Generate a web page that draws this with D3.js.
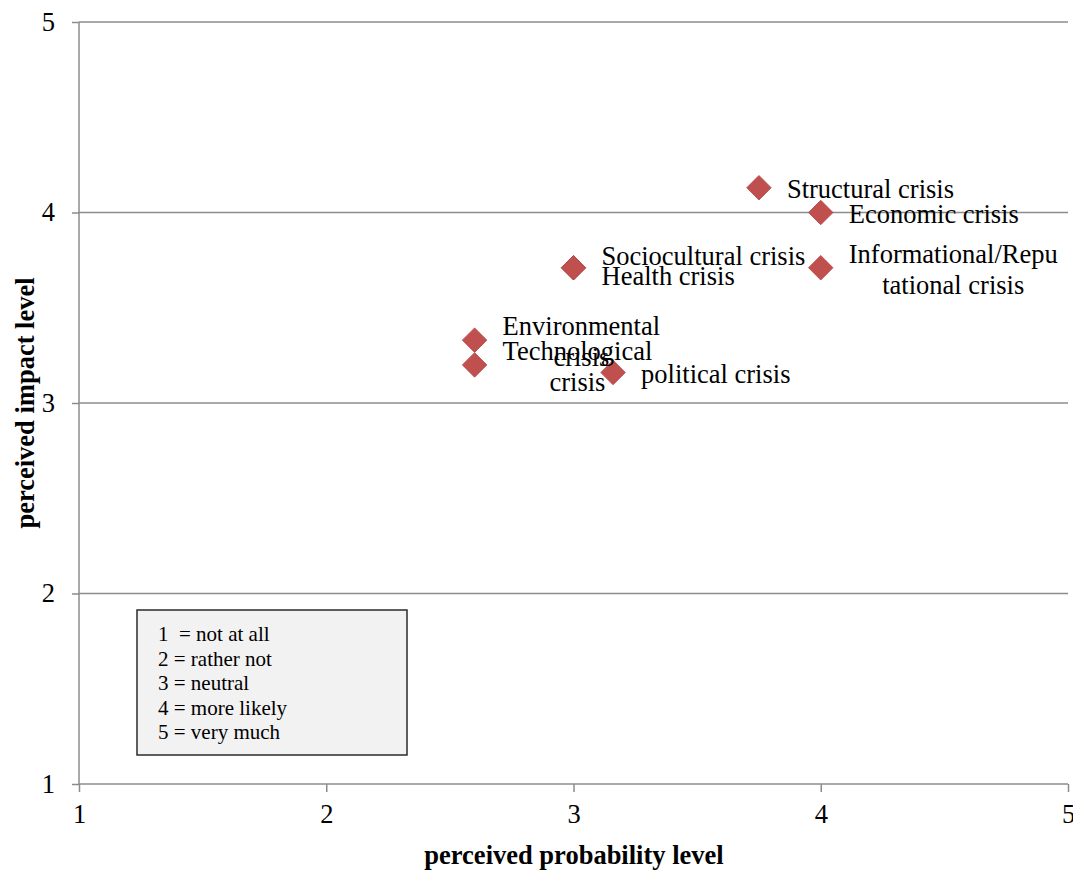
<!DOCTYPE html>
<html>
<head>
<meta charset="utf-8">
<script src="https://cdn.jsdelivr.net/npm/d3@7"></script>
<style>
  body { margin: 0; background: #fff; }
  svg { display: block; font-family: "Liberation Serif", "Times New Roman", serif; }
  .note text { white-space: pre; }
</style>
</head>
<body>
<svg id="chart" width="1073" height="870"></svg>
<script>
// Crisis types: perceived probability (x) vs perceived impact (y)
const crisisNames = [
  "Structural crisis",
  "Economic crisis",
  "Informational/Reputational crisis",
  "Sociocultural crisis",
  "Health crisis",
  "Environmental crisis",
  "Technological crisis",
  "political crisis"
];
const probability = [3.75, 4.00, 4.00, 3.00, 3.00, 2.60, 2.60, 3.16];
const impact      = [4.13, 4.00, 3.71, 3.71, 3.71, 3.33, 3.20, 3.16];

// Label text as wrapped into lines
const labelLines = [
  ["Structural crisis"],
  ["Economic crisis"],
  ["Informational/Repu", "tational crisis"],
  ["Sociocultural crisis"],
  ["Health crisis"],
  ["Environmental", "crisis"],
  ["Technological", "crisis"],
  ["political crisis"]
];

const xTicks = [1, 2, 3, 4, 5];
const yTicks = [1, 2, 3, 4, 5];
const scaleNote = [
  "1  = not at all",
  "2 = rather not",
  "3 = neutral",
  "4 = more likely",
  "5 = very much"
];

// Layout
const plot = { left: 79, right: 1068, top: 22, bottom: 784 };
const gridColor = "#8c8c8c";
const markerColor = "#c0504d";
const fontSize = 26.5;
// vertical shifts (px) for labels that share a point
const labelShift = { "Sociocultural crisis": -13, "Health crisis": 7 };

const svg = d3.select("#chart");

const x = d3.scaleLinear().domain([1, 5]).range([plot.left, plot.right]);
const y = d3.scaleLinear().domain([1, 5]).range([plot.bottom, plot.top]);

// horizontal gridlines
svg.append("g")
  .selectAll("line")
  .data(yTicks.filter(t => t > 1))
  .join("line")
  .attr("x1", plot.left).attr("x2", plot.right)
  .attr("y1", d => y(d)).attr("y2", d => y(d))
  .attr("stroke", gridColor).attr("stroke-width", 1.5);

// y axis
const yAxis = svg.append("g")
  .attr("transform", `translate(${plot.left},0)`)
  .call(d3.axisLeft(y).tickValues(yTicks).tickFormat(d3.format("d")).tickSize(7).tickPadding(17));
yAxis.select(".domain").attr("stroke", gridColor).attr("stroke-width", 1.5)
  .attr("d", `M0,${plot.top}V${plot.bottom}`);
yAxis.selectAll(".tick line").attr("stroke", gridColor).attr("stroke-width", 1.5);
yAxis.selectAll(".tick text")
  .attr("font-size", fontSize).attr("fill", "#000")
  .attr("font-family", "Liberation Serif, Times New Roman, serif");

// x axis
const xAxis = svg.append("g")
  .attr("transform", `translate(0,${plot.bottom})`)
  .call(d3.axisBottom(x).tickValues(xTicks).tickFormat(d3.format("d")).tickSize(8).tickPadding(12));
xAxis.select(".domain").attr("stroke", gridColor).attr("stroke-width", 1.5)
  .attr("d", `M${plot.left},0H${plot.right}`);
xAxis.selectAll(".tick line").attr("stroke", gridColor).attr("stroke-width", 1.5);
xAxis.selectAll(".tick text")
  .attr("font-size", fontSize).attr("fill", "#000")
  .attr("font-family", "Liberation Serif, Times New Roman, serif");

// axis titles
svg.append("text")
  .attr("x", 574).attr("y", 864)
  .attr("text-anchor", "middle")
  .attr("font-size", fontSize).attr("font-weight", "bold")
  .text("perceived probability level");

svg.append("text")
  .attr("transform", "translate(34,403) rotate(-90)")
  .attr("text-anchor", "middle")
  .attr("font-size", fontSize).attr("font-weight", "bold")
  .text("perceived impact level");

// points
const points = crisisNames.map((name, i) => ({
  name, px: probability[i], py: impact[i], lines: labelLines[i]
}));

const diamond = d3.symbol().type(d3.symbolSquare).size(300);
svg.append("g")
  .selectAll("path")
  .data(points)
  .join("path")
  .attr("d", diamond)
  .attr("transform", d => `translate(${x(d.px)},${y(d.py)}) rotate(45)`)
  .attr("fill", markerColor)
  .attr("stroke", "#b8474a")
  .attr("stroke-width", 0.8);

// data labels
const lineH = 31;
const labels = svg.append("g").attr("font-size", fontSize).attr("fill", "#000");
points.forEach(d => {
  const cx = x(d.px), cy = y(d.py) + 10.5 + (labelShift[d.name] || 0);
  const n = d.lines.length;
  if (n === 1) {
    labels.append("text")
      .attr("x", cx + 28).attr("y", cy)
      .text(d.lines[0]);
  } else {
    const t = labels.append("text").attr("text-anchor", "middle");
    // measure the first line so the wrapped block starts next to the marker
    const probe = labels.append("text").text(d.lines[0]);
    const w = probe.node().getComputedTextLength();
    probe.remove();
    const mid = cx + 28 + w / 2;
    d.lines.forEach((ln, k) => {
      t.append("tspan")
        .attr("x", mid)
        .attr("y", cy + (k - (n - 1) / 2) * lineH)
        .text(ln);
    });
  }
});

// scale note box
const box = svg.append("g").attr("class", "note");
box.append("rect")
  .attr("x", 137).attr("y", 610).attr("width", 270).attr("height", 145)
  .attr("fill", "#f2f2f2").attr("stroke", "#2b2b2b").attr("stroke-width", 1.5);
box.selectAll("text")
  .data(scaleNote)
  .join("text")
  .attr("x", 158)
  .attr("y", (d, i) => 641 + i * 24.5)
  .attr("font-size", 21)
  .text(d => d);
</script>
</body>
</html>
